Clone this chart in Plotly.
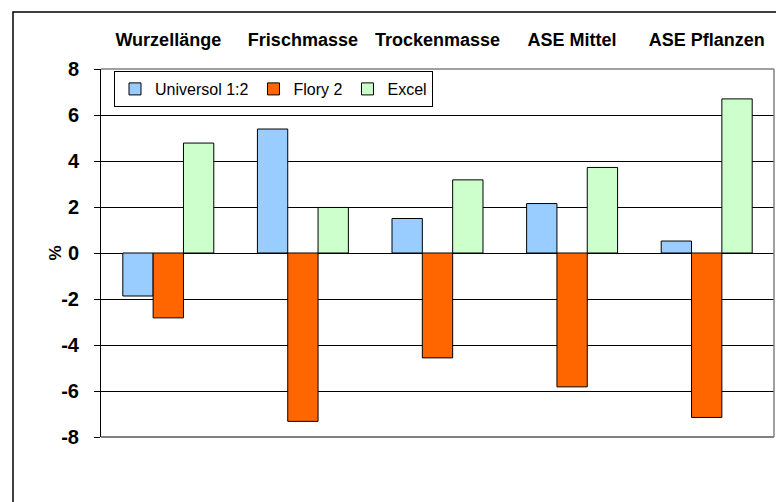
import plotly.graph_objects as go

categories = ["Wurzellänge", "Frischmasse", "Trockenmasse", "ASE Mittel", "ASE Pflanzen"]
universol = [-1.87, 5.39, 1.50, 2.15, 0.52]
flory = [-2.82, -7.32, -4.56, -5.82, -7.15]
excel = [4.78, 1.98, 3.18, 3.72, 6.70]
y_ticks = [-8, -6, -4, -2, 0, 2, 4, 6, 8]
boundaries = [0.5, 1.5, 2.5, 3.5, 4.5]

FONT = "Liberation Sans, Arial, sans-serif"

fig = go.Figure()
for name, vals, color in [("Universol 1:2", universol, "#99CCFF"),
                          ("Flory 2", flory, "#FF6600"),
                          ("Excel", excel, "#CCFFCC")]:
    fig.add_trace(go.Bar(x=categories, y=vals, name=name,
                         marker=dict(color=color, line=dict(color="black", width=1))))

W, H = 776, 502
PL, PR, PT, PB = 101, 774, 69, 437          # plot-area edges in pixels
ml, mr, mt, mb = PL, W - PR, PT, H - PB
pw, ph = PR - PL, PB - PT

def px(x):
    return (x - PL) / pw

def py(y):
    return (PB - y) / ph

fig.update_layout(
    width=W, height=H,
    margin=dict(l=ml, r=mr, t=mt, b=mb, pad=0),
    paper_bgcolor="white", plot_bgcolor="white",
    barmode="group", bargap=0.324, bargroupgap=0,
    font=dict(family=FONT, color="black"),
    showlegend=True,
    legend=dict(orientation="h", x=px(114), y=py(71), xanchor="left", yanchor="top",
                bgcolor="white", bordercolor="black", borderwidth=1,
                font=dict(family=FONT, size=16, color="black"),
                itemwidth=30, tracegroupgap=0),
    xaxis=dict(type="category", categoryorder="array", categoryarray=categories,
               range=[-0.5, 4.5], side="top", anchor="y",
               showline=False, ticks="", showgrid=False, zeroline=False,
               tickfont=dict(family=FONT, size=18, color="black", weight="bold"),
               ticklabelstandoff=18),
    xaxis2=dict(type="linear", range=[-0.5, 4.5], overlaying="x", anchor="free",
                position=0.5, side="bottom",
                showline=True, linecolor="black", linewidth=1,
                tickvals=boundaries, ticks="outside", ticklen=4, tickcolor="black",
                showticklabels=False, showgrid=False, zeroline=False),
    yaxis=dict(range=[-8, 8], tickvals=y_ticks, ticktext=[str(v) for v in y_ticks],
               showline=True, linecolor="black", linewidth=1,
               ticks="outside", ticklen=6, tickcolor="black",
               showgrid=True, gridcolor="black", gridwidth=1, zeroline=False,
               tickfont=dict(family=FONT, size=20, color="black", weight="bold"),
               ticklabelstandoff=11),
    annotations=[dict(text="%", xref="paper", yref="paper", x=px(43), y=0.5,
                      textangle=-90, showarrow=False,
                      font=dict(family=FONT, size=17, color="black", weight="bold"))],
    shapes=[
        dict(type="line", xref="paper", yref="paper", x0=0, x1=1, y0=0, y1=0,
             line=dict(color="#808080", width=2), layer="above"),
        dict(type="line", xref="paper", yref="paper", x0=1, x1=1, y0=0, y1=1,
             line=dict(color="#808080", width=1.5), layer="above"),
        dict(type="line", xref="paper", yref="paper", x0=0, x1=1, y0=1, y1=1,
             line=dict(color="#808080", width=1.5), layer="above"),
        dict(type="rect", xref="paper", yref="paper", x0=px(13), x1=px(800),
             y0=py(530), y1=py(12), line=dict(color="black", width=1.5),
             fillcolor="rgba(0,0,0,0)", layer="above"),
    ],
)

fig.write_html("out.html",
               config={"displayModeBar": False},
               post_script="document.body.style.margin='0';document.body.style.overflow='hidden';")
